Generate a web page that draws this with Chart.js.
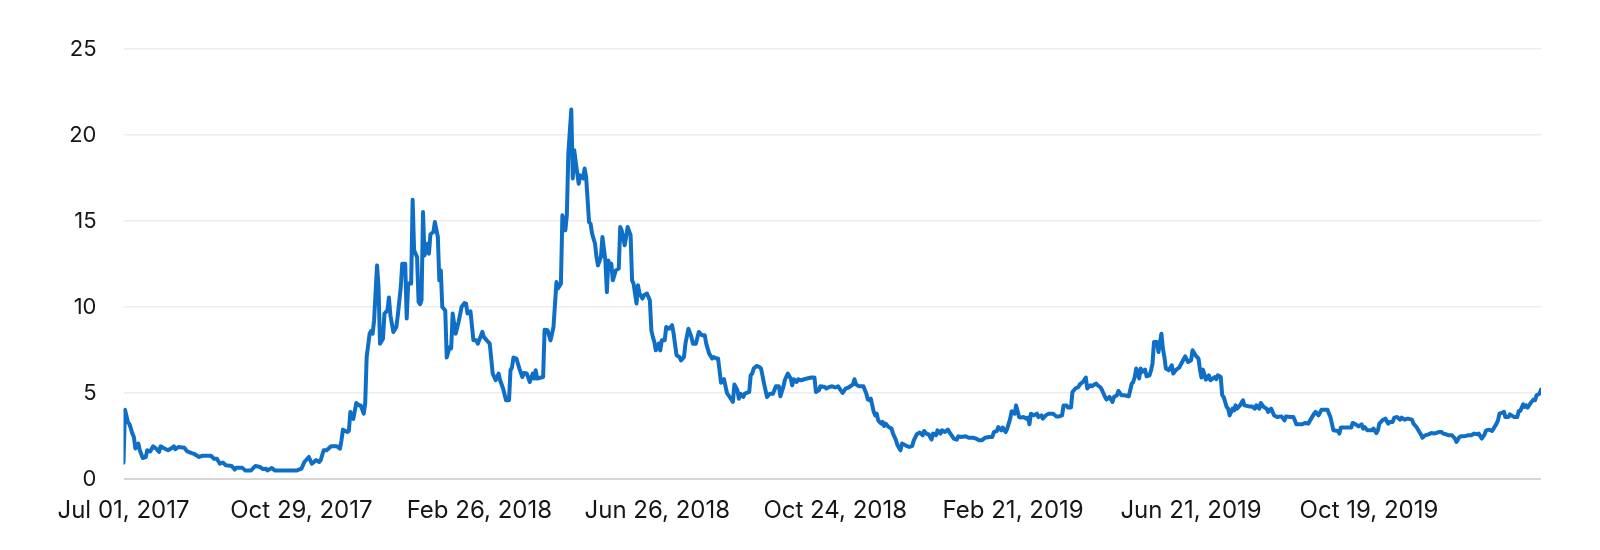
<!DOCTYPE html>
<html>
<head>
<meta charset="utf-8">
<script src="https://cdn.jsdelivr.net/npm/chart.js@4/dist/chart.umd.min.js"></script>
<style>
    body { margin: 0; background: #fff; }
    #wrap { width: 1600px; height: 550px; }
</style>
</head>
<body>
<div id="wrap"><canvas id="price-chart"></canvas></div>
<script>
// x = days since Jul 01, 2017, y = price
const days = [
    0, 1, 3, 4, 6, 7, 8, 10, 11, 13, 15, 16, 18, 20, 22, 24, 25, 27, 30, 32, 34, 35, 37, 41, 43, 46, 48, 51, 53, 59,
    61, 63, 65, 67, 69, 73, 75, 76, 80, 82, 86, 89, 92, 94, 96, 97, 100, 102, 117, 120, 122, 125, 127, 130, 132, 133,
    135, 137, 140, 144, 146, 147, 148, 151, 152, 153, 155, 157, 159, 160, 162, 163, 164, 166, 167, 168, 169, 171, 172, 173,
    175, 176, 178, 179, 180, 182, 184, 185, 187, 188, 190, 191, 192, 194, 195, 196, 198, 199, 200, 201, 202, 203, 205, 206,
    207, 209, 210, 212, 213, 214, 215, 217, 218, 220, 221, 222, 224, 226, 228, 230, 231, 232, 234, 236, 238, 239, 242, 243,
    245, 247, 249, 251, 253, 254, 256, 258, 260, 261, 262, 263, 265, 267, 269, 270, 272, 274, 276, 277, 278, 279, 283, 284,
    286, 288, 290, 292, 293, 295, 296, 298, 299, 300, 302, 303, 304, 305, 307, 308, 310, 311, 312, 314, 315, 316, 318, 319,
    320, 322, 323, 325, 326, 327, 328, 329, 330, 332, 334, 335, 336, 338, 339, 340, 342, 343, 344, 346, 347, 348, 350, 351,
    353, 355, 356, 357, 358, 359, 361, 362, 363, 365, 366, 368, 369, 370, 371, 373, 375, 376, 378, 379, 381, 383, 384, 386,
    388, 390, 392, 393, 395, 397, 398, 400, 401, 403, 405, 407, 408, 411, 412, 414, 415, 416, 418, 419, 422, 423, 424, 425,
    427, 429, 430, 432, 433, 434, 436, 438, 440, 442, 443, 445, 446, 448, 450, 451, 452, 454, 455, 457, 459, 461, 464, 466,
    467, 469, 470, 473, 474, 476, 478, 480, 482, 483, 485, 487, 489, 492, 493, 494, 496, 499, 501, 502, 503, 504, 506, 507,
    508, 509, 511, 512, 513, 514, 516, 518, 519, 521, 522, 524, 525, 528, 530, 532, 533, 535, 537, 539, 540, 542, 543, 545,
    546, 548, 549, 551, 552, 554, 556, 557, 560, 562, 563, 565, 568, 570, 573, 575, 577, 579, 581, 584, 586, 587, 589, 590,
    592, 593, 595, 596, 598, 599, 601, 602, 604, 605, 607, 609, 610, 611, 612, 614, 616, 617, 619, 620, 622, 624, 627, 629,
    631, 633, 634, 636, 637, 639, 640, 642, 644, 645, 647, 649, 650, 652, 653, 656, 657, 659, 660, 662, 663, 665, 667, 668,
    670, 671, 673, 675, 678, 680, 681, 682, 683, 684, 685, 686, 687, 689, 690, 692, 693, 694, 695, 697, 698, 700, 701, 702,
    703, 705, 707, 708, 710, 712, 714, 716, 718, 720, 721, 723, 725, 726, 727, 728, 730, 732, 733, 736, 737, 738, 740, 741,
    742, 744, 745, 746, 748, 749, 750, 751, 753, 755, 756, 759, 761, 763, 764, 766, 767, 769, 771, 772, 774, 776, 778, 781,
    783, 784, 787, 789, 790, 791, 795, 797, 799, 801, 803, 804, 806, 808, 812, 813, 814, 816, 819, 820, 821, 825, 828, 829,
    831, 833, 835, 836, 837, 839, 842, 843, 845, 846, 847, 849, 851, 853, 854, 856, 857, 859, 861, 862, 864, 866, 869, 870,
    872, 874, 875, 876, 878, 880, 882, 884, 887, 889, 890, 892, 894, 896, 898, 899, 901, 902, 904, 907, 909, 911, 913, 914,
    916, 918, 919, 921, 923, 924, 926, 927, 928, 930, 931, 932, 934, 935, 938, 940, 941, 942, 944, 945, 946, 947, 949, 951,
    952, 953, 955, 956
];
const prices = [
    0.95, 4.03, 3.3, 3.2, 2.64, 2.44, 1.77, 2.06, 1.67, 1.22, 1.27, 1.67, 1.6, 1.9, 1.77, 1.57, 1.9, 1.8, 1.67, 1.77, 1.9, 1.73, 1.86, 1.82, 1.6, 1.5, 1.44, 1.28, 1.35, 1.35,
    1.18, 1.18, 0.89, 0.96, 0.8, 0.76, 0.55, 0.66, 0.66, 0.5, 0.5, 0.76, 0.7, 0.58, 0.6, 0.5, 0.64, 0.5, 0.5, 0.6, 0.99, 1.28, 0.89, 1.1, 0.99, 1.1,
    1.67, 1.67, 1.9, 1.9, 1.77, 2.25, 2.87, 2.73, 2.8, 3.9, 3.5, 4.42, 4.28, 4.28, 3.8, 4.38, 7.1, 8.45, 8.6, 8.45, 9.22, 12.42, 11.16, 7.87,
    8.16, 9.62, 9.8, 10.55, 9.52, 8.55, 8.84, 9.52, 11.16, 12.52, 12.52, 9.33, 11.36, 11.36, 16.24, 13.3, 12.9, 10.29, 10.16, 10.39, 15.52, 13.0, 13.68, 13.1,
    14.23, 14.36, 14.94, 14.07, 11.55, 12.13, 10.0, 9.8, 7.06, 7.67, 7.6, 9.62, 8.45, 9.13, 10.0, 10.23, 10.2, 9.62, 9.75, 8.06, 8.06, 7.87, 8.55, 8.26,
    8.06, 7.87, 6.13, 5.74, 6.13, 5.74, 5.26, 4.58, 4.58, 6.32, 6.48, 7.06, 7.0, 6.42, 5.93, 6.16, 6.13, 5.64, 6.13, 5.84, 6.32, 5.84, 5.93, 8.68,
    8.65, 8.06, 8.84, 11.45, 11.07, 11.36, 15.33, 14.46, 15.33, 18.92, 21.48, 17.47, 19.11, 18.43, 17.17, 17.66, 17.47, 18.05, 17.56, 14.94, 14.85, 14.27, 13.69, 12.91,
    12.42, 12.91, 14.07, 12.71, 10.87, 12.71, 12.23, 12.52, 11.55, 12.13, 12.23, 14.65, 14.46, 13.59, 14.07, 14.65, 14.17, 11.55, 11.36, 10.2, 11.26, 10.78, 10.49, 10.68,
    10.78, 10.39, 8.64, 8.26, 7.97, 7.48, 7.87, 7.48, 8.06, 8.06, 8.84, 8.74, 8.84, 8.94, 8.45, 7.19, 7.09, 6.9, 7.09, 7.87, 8.74, 8.26, 7.87, 7.87,
    8.55, 8.36, 8.36, 7.87, 7.29, 7.0, 7.09, 7.0, 7.0, 5.6, 5.8, 5.0, 4.87, 4.48, 5.5, 5.16, 4.67, 4.96, 4.77, 4.96, 5.06, 6.03, 6.13, 6.42,
    6.57, 6.51, 6.42, 5.55, 5.16, 4.77, 4.96, 4.96, 5.39, 5.39, 4.81, 5.35, 5.74, 6.13, 5.84, 5.45, 5.8, 5.64, 5.8, 5.74, 5.8, 5.84, 5.9, 5.9,
    5.06, 5.16, 5.39, 5.35, 5.26, 5.35, 5.39, 5.32, 5.39, 5.26, 5.0, 5.26, 5.32, 5.5, 5.8, 5.5, 5.39, 5.39, 4.96, 4.62, 4.58, 4.67, 3.9, 3.7,
    3.8, 3.41, 3.22, 3.32, 3.08, 3.22, 3.02, 2.93, 2.64, 2.25, 1.96, 1.67, 2.06, 1.93, 1.86, 1.93, 2.25, 2.6, 2.7, 2.54, 2.79, 2.6, 2.6, 2.29,
    2.64, 2.54, 2.83, 2.64, 2.83, 2.73, 2.87, 2.73, 2.35, 2.29, 2.48, 2.44, 2.48, 2.4, 2.4, 2.35, 2.25, 2.25, 2.4, 2.44, 2.44, 2.73, 2.79, 3.02,
    2.83, 2.99, 2.73, 2.93, 3.51, 3.94, 3.8, 4.28, 3.6, 3.57, 3.6, 3.51, 3.57, 3.18, 3.8, 3.7, 3.8, 3.6, 3.7, 3.51, 3.7, 3.8, 3.8, 3.64,
    3.64, 3.7, 4.28, 4.28, 4.15, 4.15, 5.06, 5.26, 5.35, 5.5, 5.64, 5.9, 5.26, 5.45, 5.39, 5.55, 5.45, 5.32, 5.16, 4.77, 4.62, 4.77, 4.48, 4.77,
    4.87, 5.12, 4.87, 4.87, 4.81, 5.55, 5.64, 5.93, 6.42, 6.13, 5.84, 6.42, 6.22, 6.36, 5.97, 6.03, 6.32, 6.71, 7.97, 7.97, 7.38, 8.45, 7.58, 7.09,
    6.42, 6.32, 6.61, 6.13, 6.36, 6.48, 6.8, 7.13, 6.8, 6.9, 7.48, 7.19, 7.0, 6.36, 5.9, 6.36, 5.78, 6.03, 5.74, 5.93, 5.8, 6.03, 5.93, 4.87,
    4.77, 4.19, 4.09, 3.7, 4.09, 3.99, 4.28, 4.09, 4.28, 4.58, 4.28, 4.22, 4.22, 4.09, 4.28, 4.09, 4.42, 4.19, 4.09, 3.9, 4.09, 3.7, 3.6, 3.64,
    3.41, 3.64, 3.6, 3.6, 3.41, 3.18, 3.18, 3.26, 3.22, 3.51, 3.8, 3.9, 3.7, 4.03, 4.03, 3.8, 3.6, 2.83, 2.79, 2.64, 2.99, 2.99, 2.99, 3.26,
    3.18, 3.06, 3.18, 2.93, 3.02, 2.83, 2.83, 2.93, 2.67, 2.83, 3.22, 3.41, 3.51, 3.22, 3.32, 3.32, 3.57, 3.6, 3.45, 3.57, 3.45, 3.51, 3.45, 3.22,
    3.02, 2.73, 2.6, 2.4, 2.54, 2.6, 2.67, 2.64, 2.73, 2.73, 2.64, 2.6, 2.54, 2.54, 2.35, 2.15, 2.44, 2.48, 2.48, 2.54, 2.54, 2.64, 2.6, 2.64,
    2.35, 2.6, 2.83, 2.87, 2.79, 2.93, 3.22, 3.41, 3.8, 3.86, 3.9, 3.6, 3.6, 3.76, 3.6, 3.6, 3.96, 3.96, 4.34, 4.19, 4.28, 4.15, 4.42, 4.62,
    4.58, 4.87, 4.96, 5.2
];
const tickDays = [0, 120, 240, 360, 480, 600, 720, 840];
const tickLabels = ['Jul 01, 2017', 'Oct 29, 2017', 'Feb 26, 2018', 'Jun 26, 2018', 'Oct 24, 2018', 'Feb 21, 2019', 'Jun 21, 2019', 'Oct 19, 2019'];
const lastDay = 956;

const points = days.map((d, i) => ({ x: d, y: prices[i] }));
const family = 'Inter, "Noto Sans", sans-serif';

new Chart(document.getElementById('price-chart'), {
    type: 'line',
    data: {
        datasets: [{
            data: points,
            borderColor: '#0f6fc6',
            borderWidth: 4,
            borderJoinStyle: 'round',
            borderCapStyle: 'round',
            pointRadius: 0,
            tension: 0,
            fill: false
        }]
    },
    options: {
        responsive: true,
        maintainAspectRatio: false,
        animation: false,
        layout: { padding: { left: 0, right: 59, top: 49, bottom: 0 } },
        plugins: {
            legend: { display: false },
            tooltip: { enabled: false }
        },
        scales: {
            x: {
                type: 'linear',
                min: 0,
                max: lastDay,
                grid: { display: false, drawTicks: false },
                border: { display: false },
                afterBuildTicks: (scale) => {
                    scale.ticks = tickDays.map(v => ({ value: v }));
                },
                afterFit: (scale) => { scale.height = 71; },
                ticks: {
                    autoSkip: false,
                    maxRotation: 0,
                    padding: 17,
                    color: '#161616',
                    font: { family, size: 24 },
                    callback: (value) => tickLabels[tickDays.indexOf(value)]
                }
            },
            y: {
                min: 0,
                max: 25,
                grid: {
                    drawTicks: false,
                    color: (ctx) => ctx.tick && ctx.tick.value === 0 ? '#d6d6d6' : '#ededed',
                    lineWidth: (ctx) => ctx.tick && ctx.tick.value === 0 ? 2 : 1.5
                },
                border: { display: false },
                afterFit: (scale) => { scale.width = 123.5; },
                ticks: {
                    stepSize: 5,
                    padding: 27,
                    color: '#161616',
                    font: { family, size: 22 }
                }
            }
        }
    }
});
</script>
</body>
</html>
